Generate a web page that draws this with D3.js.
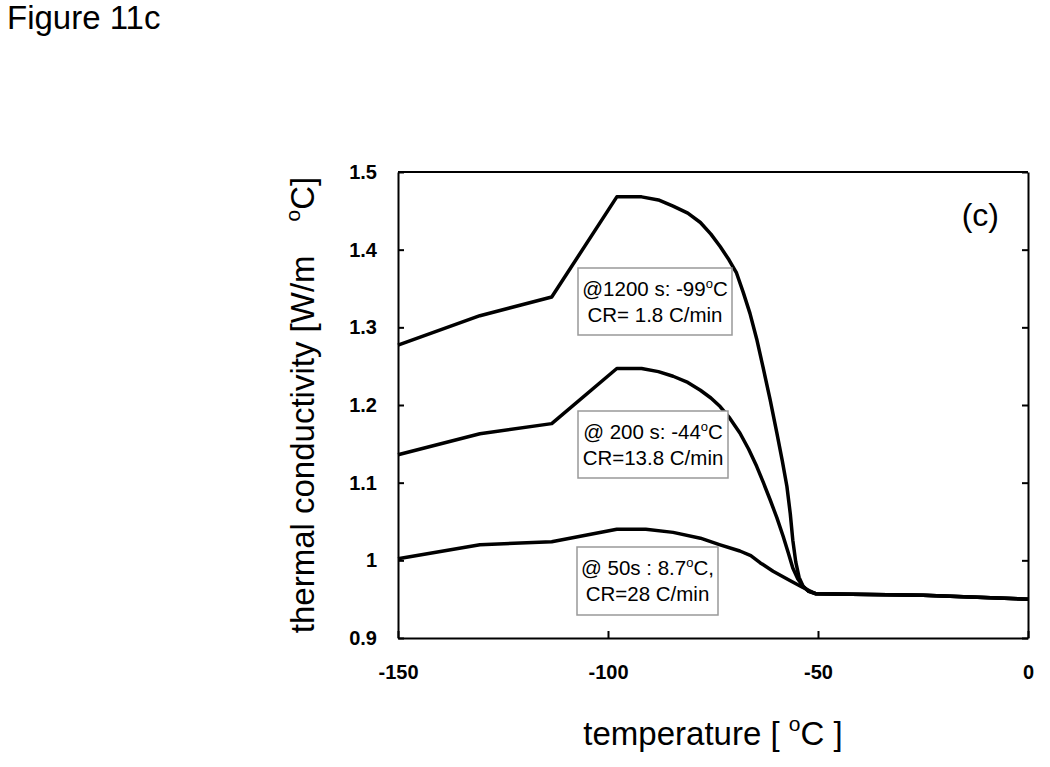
<!DOCTYPE html>
<html>
<head>
<meta charset="utf-8">
<script src="https://cdn.jsdelivr.net/npm/d3@7"></script>
<style>
  body { margin: 0; background: #fff; }
  svg text { font-family: "Liberation Sans", Arial, sans-serif; fill: #000; }
</style>
</head>
<body>
<div id="chart"></div>
<script>
// temperature [°C] and thermal conductivity
var temp1200 = [-150, -130.5, -113.4, -97.9, -92, -88, -84.5, -81, -78, -75.5, -73.3, -71.2, -69.4, -67.8, -66.2, -64.6, -63.1, -61.4, -59.8, -58.5, -57.4, -56.6, -56, -55.3, -54.5, -53.5, -52.2, -50.5, -25, 0];
var k1200    = [1.277, 1.315, 1.339, 1.468, 1.468, 1.464, 1.456, 1.447, 1.435, 1.420, 1.404, 1.387, 1.370, 1.345, 1.318, 1.285, 1.249, 1.207, 1.164, 1.128, 1.095, 1.060, 1.026, 0.998, 0.978, 0.966, 0.960, 0.957, 0.955, 0.950];

var temp200 = [-150, -130.5, -113.4, -97.9, -92, -88, -84.5, -81, -78, -75.5, -73.3, -71, -68.6, -66.5, -64.6, -63, -61.4, -59.8, -58.3, -57.1, -56, -54.8, -53.6, -52.2, -50.5, -25, 0];
var k200    = [1.136, 1.163, 1.176, 1.247, 1.247, 1.243, 1.237, 1.229, 1.219, 1.209, 1.198, 1.183, 1.164, 1.143, 1.121, 1.100, 1.078, 1.055, 1.031, 1.010, 0.990, 0.976, 0.967, 0.960, 0.957, 0.955, 0.950];

var temp50 = [-150, -130.5, -113.4, -97.9, -91, -84.5, -78, -73.3, -68.6, -66, -63.8, -60.7, -56.7, -53.6, -50.5, -25, 0];
var k50    = [1.002, 1.020, 1.024, 1.040, 1.040, 1.036, 1.0285, 1.020, 1.012, 1.006, 0.997, 0.986, 0.974, 0.965, 0.957, 0.955, 0.950];

var xTicks = [-150, -100, -50, 0];
var yTicks = [0.9, 1, 1.1, 1.2, 1.3, 1.4, 1.5];

var notes = [
  { lines: [["@1200 s: -99", "C"], ["CR= 1.8 C/min"]], box: [578, 268, 154, 67] },
  { lines: [["@ 200 s: -44", "C"], ["CR=13.8 C/min"]], box: [578, 411, 150, 67] },
  { lines: [["@ 50s : 8.7", "C,"], ["CR=28 C/min"]], box: [577, 547, 141, 68] }
];

var margin = {top: 172, right: 22, bottom: 129, left: 398},
    width = 1050 - margin.left - margin.right,
    height = 767 - margin.top - margin.bottom;

var svg = d3.select("#chart").append("svg")
    .attr("width", 1050)
    .attr("height", 767);

svg.append("text")
    .attr("x", 7)
    .attr("y", 29)
    .style("font-size", "33px")
    .text("Figure 11c");

var g = svg.append("g")
    .attr("transform", "translate(" + margin.left + "," + margin.top + ")");

var x = d3.scaleLinear().domain([-150, 0]).range([0, width]);
var y = d3.scaleLinear().domain([0.9, 1.5]).range([height, 0]);

// axes, ticks pointing inward
var xAxis = g.append("g")
    .attr("transform", "translate(0," + height + ")")
    .call(d3.axisBottom(x).tickValues(xTicks).tickSizeInner(-7).tickSizeOuter(0).tickPadding(27)
        .tickFormat(function(d) { return String(d); }));
xAxis.selectAll("text").style("font-size", "20px").style("font-weight", "bold");

var yAxis = g.append("g")
    .call(d3.axisLeft(y).tickValues(yTicks).tickSizeInner(-6).tickSizeOuter(0).tickPadding(21)
        .tickFormat(function(d) { return String(d); }));
yAxis.selectAll("text").style("font-size", "20px").style("font-weight", "bold");

g.append("g")
    .attr("transform", "translate(" + width + ",0)")
    .call(d3.axisRight(y).tickValues(yTicks).tickSizeInner(-6).tickSizeOuter(0).tickFormat(""));

g.selectAll(".domain, .tick line").attr("stroke", "#000").attr("stroke-width", 2);

// frame top
g.append("line")
    .attr("x1", 0).attr("x2", width)
    .attr("y1", 0).attr("y2", 0)
    .attr("stroke", "#000").attr("stroke-width", 2);

var line = d3.line()
    .x(function(d) { return x(d[0]); })
    .y(function(d) { return y(d[1]); });

[[temp1200, k1200], [temp200, k200], [temp50, k50]].forEach(function(s) {
  g.append("path")
      .datum(d3.zip(s[0], s[1]))
      .attr("fill", "none")
      .attr("stroke", "#000")
      .attr("stroke-width", 3.5)
      .attr("stroke-linejoin", "round")
      .attr("d", line);
});

// annotation boxes
notes.forEach(function(n) {
  var b = n.box;
  svg.append("rect")
      .attr("x", b[0]).attr("y", b[1])
      .attr("width", b[2]).attr("height", b[3])
      .attr("fill", "#fff")
      .attr("stroke", "#999")
      .attr("stroke-width", 1.5);
  n.lines.forEach(function(l, i) {
    var t = svg.append("text")
        .attr("x", b[0] + b[2] / 2)
        .attr("y", b[1] + 28 + i * 26)
        .attr("text-anchor", "middle")
        .style("font-size", "20.5px");
    t.append("tspan").text(l[0]);
    if (l.length > 1) {
      t.append("tspan").attr("dy", -8).style("font-size", "13px").text("o");
      t.append("tspan").attr("dy", 8).text(l[1]);
    }
  });
});

svg.append("text")
    .attr("x", 999)
    .attr("y", 226)
    .attr("text-anchor", "end")
    .style("font-size", "32px")
    .text("(c)");

// x label
var xl = svg.append("text")
    .attr("x", margin.left + width / 2)
    .attr("y", 745)
    .attr("text-anchor", "middle")
    .style("font-size", "33px");
xl.append("tspan").text("temperature [ ");
xl.append("tspan").attr("dy", -14).style("font-size", "21px").text("o");
xl.append("tspan").attr("dy", 14).text("C ]");

// y label
var yl = svg.append("text")
    .attr("transform", "translate(314," + 405 + ") rotate(-90)")
    .attr("text-anchor", "middle")
    .style("font-size", "33px");
yl.append("tspan").text("thermal conductivity [W/m");
yl.append("tspan").attr("dx", 34).attr("dy", -14).style("font-size", "21px").text("o");
yl.append("tspan").attr("dy", 14).text("C]");
</script>
</body>
</html>
